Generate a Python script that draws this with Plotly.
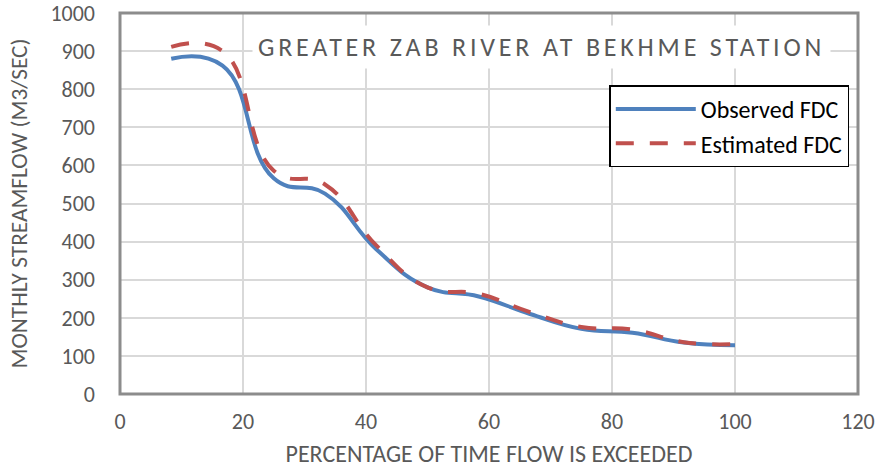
import plotly.graph_objects as go

# ---- data ----
exceed_pct = [8.33, 16.67, 25.0, 33.33, 41.67, 50.0, 58.33, 66.67, 75.0, 83.33, 91.67, 100.0]
observed_fdc = [880, 862, 566, 526, 380, 280, 256, 210, 171, 161, 135, 128]
estimated_fdc = [911, 900, 586, 550, 390, 280, 263, 215, 176, 169, 136, 131]

x_ticks = [0, 20, 40, 60, 80, 100, 120]
y_ticks = [0, 100, 200, 300, 400, 500, 600, 700, 800, 900, 1000]

title_text = "GREATER ZAB RIVER AT BEKHME STATION"
x_title = "PERCENTAGE OF TIME FLOW IS EXCEEDED"
y_title = "MONTHLY STREAMFLOW (M3/SEC)"

FONT = "Carlito, Lato, sans-serif"
GRAY = "#595959"

fig = go.Figure()
fig.add_trace(go.Scatter(
    x=exceed_pct, y=observed_fdc, mode="lines", name="Observed FDC",
    line=dict(color="#4F81BD", width=4, shape="spline", smoothing=1.3),
))
fig.add_trace(go.Scatter(
    x=exceed_pct, y=estimated_fdc, mode="lines", name="Estimated FDC",
    line=dict(color="#C0504D", width=4, shape="spline", smoothing=1.3, dash="18px,16px"),
))

fig.update_layout(
    width=879, height=470,
    margin=dict(l=120, r=21, t=13, b=76),
    paper_bgcolor="white", plot_bgcolor="white",
    font=dict(family=FONT, color=GRAY, size=22),
    showlegend=True,
    legend=dict(
        x=0.663, y=0.81, xanchor="left", yanchor="top",
        bgcolor="white", bordercolor="black", borderwidth=1.5,
        font=dict(family=FONT, size=24, color="black"),
        itemwidth=80,
    ),
    xaxis=dict(
        range=[0, 120], tickvals=x_ticks, showgrid=True, gridcolor="#D9D9D9", gridwidth=2,
        zeroline=False, showline=False, ticks="", ticklabelstandoff=12, automargin=False,
        ticklabeloverflow="allow",
        tickfont=dict(family=FONT, size=22, color=GRAY),
        title=dict(text=x_title, font=dict(family=FONT, size=24, color=GRAY), standoff=11),
    ),
    yaxis=dict(
        range=[0, 1000], tickvals=y_ticks, showgrid=True, gridcolor="#D9D9D9", gridwidth=2,
        zeroline=False, showline=False, ticks="", ticklabelstandoff=24, automargin=False,
        ticklabeloverflow="allow",
        tickfont=dict(family=FONT, size=22, color=GRAY),
        title=dict(text=y_title, font=dict(family=FONT, size=23.3, color=GRAY), standoff=16),
    ),
)

# plot-area border
fig.add_shape(type="rect", xref="x domain", yref="y domain", x0=0, x1=1, y0=0, y1=1,
              line=dict(color="#8C8C8C", width=3), fillcolor="rgba(0,0,0,0)", layer="above")

# chart title inside the plot area
fig.add_annotation(
    x=0.571, y=0.91, xref="paper", yref="paper", xanchor="center", yanchor="middle",
    text='<span style="letter-spacing:3.8px">' + title_text + '</span>',
    showarrow=False, bgcolor="white", borderpad=5,
    font=dict(family=FONT, size=26, color=GRAY),
)

# remove the default 8px page margin so the figure fills the window exactly
fig.write_html("out.html", config={"displayModeBar": False},
               post_script="document.body.style.margin='0';")
